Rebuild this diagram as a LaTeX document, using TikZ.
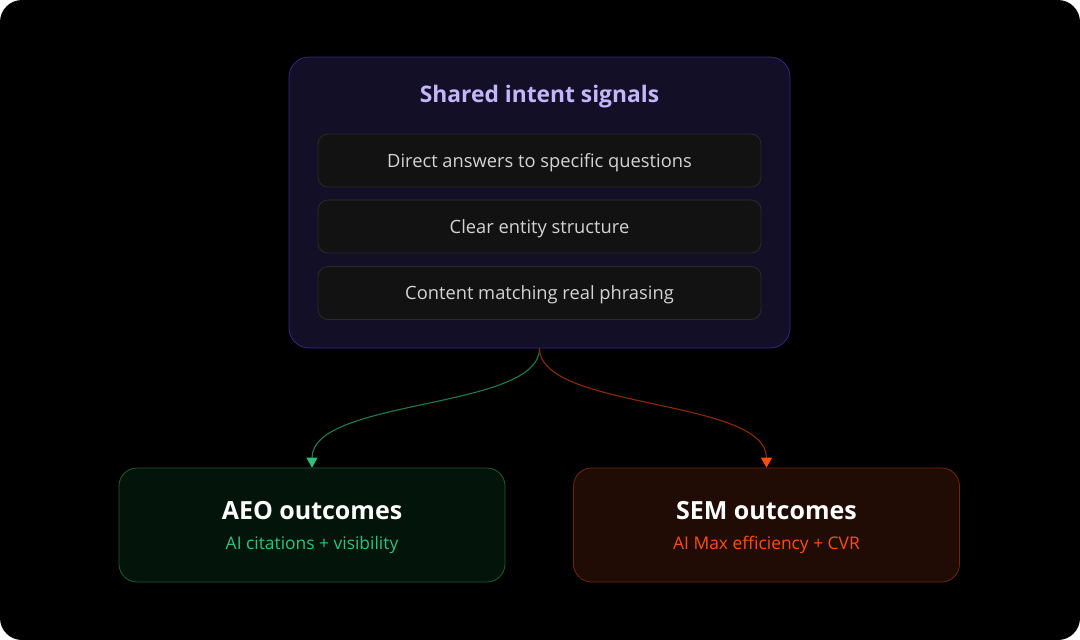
\documentclass[tikz,border=0pt]{standalone}
\usepackage{fontspec}
\setmainfont{Open Sans}
\usetikzlibrary{arrows.meta}
\definecolor{panelbg}{HTML}{000000}
\definecolor{topfill}{HTML}{130F27}
\definecolor{topline}{HTML}{35258A}
\definecolor{toptitle}{HTML}{C4B5FD}
\definecolor{itemfill}{HTML}{121212}
\definecolor{itemline}{HTML}{2A2A2A}
\definecolor{itemtext}{HTML}{D4D4D4}
\definecolor{aeofill}{HTML}{03140A}
\definecolor{aeoline}{HTML}{1B5E36}
\definecolor{aeotext}{HTML}{2EC27E}
\definecolor{aeowire}{HTML}{1F7A4E}
\definecolor{semfill}{HTML}{200C04}
\definecolor{semline}{HTML}{6E2608}
\definecolor{semtext}{HTML}{FF4D0A}
\definecolor{semwire}{HTML}{8A2C04}
\tikzset{
  itembox/.style={draw=itemline, fill=itemfill, line width=0.8pt, rounded corners=10pt,
    minimum width=443pt, minimum height=53pt, inner sep=0pt},
  itemtxt/.style={text=itemtext, inner sep=0pt, font=\fontsize{18.3}{22}\selectfont},
  outbox/.style={line width=0.8pt, rounded corners=18pt, minimum width=386pt,
    minimum height=114pt, inner sep=0pt},
  headtxt/.style={font=\fontsize{25}{29}\selectfont\bfseries, text=white, inner sep=0pt},
  subtxt/.style={font=\fontsize{17.4}{21}\selectfont, inner sep=0pt},
  wire/.style={line width=1.1pt}
}
\begin{document}
\begin{tikzpicture}[x=1pt,y=-1pt]
  \fill[white] (0,0) rectangle (1080,640);
  \fill[panelbg, rounded corners=22pt] (0,0) rectangle (1080,640);
  \useasboundingbox (0,0) rectangle (1080,640);

  % shared signals panel
  \node[draw=topline, fill=topfill, line width=0.8pt, rounded corners=20pt,
        minimum width=501pt, minimum height=291pt, inner sep=0pt] (top) at (539.5,202.5) {};
  \node[font=\fontsize{22.8}{27}\selectfont\bfseries, text=toptitle, inner sep=0pt]
        (title) at (539.5,97) {Shared intent signals};
  \node[itembox] (s1) at (539.5,160.5) {};
  \node[itembox] (s2) at (539.5,226.5) {};
  \node[itembox] (s3) at (539.5,293) {};
  \node[itemtxt] (t1) at (539.5,162.5) {Direct answers to specific questions};
  \node[itemtxt] (t2) at (539.5,228.5) {Clear entity structure};
  \node[itemtxt] (t3) at (539.5,295) {Content matching real phrasing};

  % outcome panels
  \node[outbox, draw=aeoline, fill=aeofill] (aeo) at (312,525) {};
  \node[headtxt] (aeoh) at (312,511) {AEO outcomes};
  \node[subtxt, text=aeotext] (aeos) at (312,545) {AI citations + visibility};

  \node[outbox, draw=semline, fill=semfill] (sem) at (766.5,525) {};
  \node[headtxt] (semh) at (766.5,511) {SEM outcomes};
  \node[subtxt, text=semtext] (sems) at (766.5,545) {AI Max efficiency + CVR};

  % connectors
  \draw[wire, draw=aeowire, -{Triangle[length=10pt,width=11pt,color=aeotext]}]
    (top.south) .. controls (540,410) and (312,398) .. (aeo.north);
  \draw[wire, draw=semwire, -{Triangle[length=10pt,width=11pt,color=semtext]}]
    (top.south) .. controls (540,410) and (766.5,398) .. (sem.north);
\end{tikzpicture}
\end{document}
